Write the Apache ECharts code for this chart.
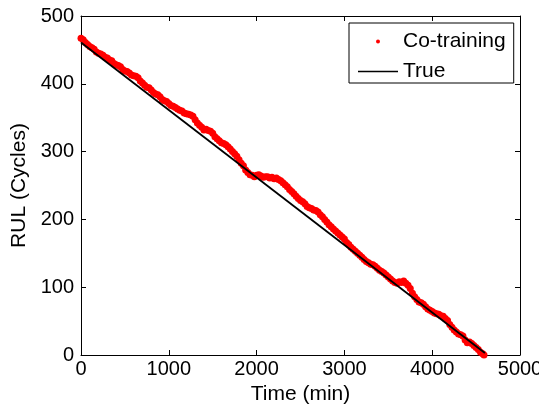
<!DOCTYPE html>
<html>
<head>
<meta charset="utf-8">
<script src="https://cdn.jsdelivr.net/npm/echarts@6/dist/echarts.min.js"></script>
<style>
html,body{margin:0;padding:0;background:#fff;}
#chart{width:539px;height:405px;}
</style>
</head>
<body>
<div id="chart"></div>
<script>
// Co-training predictions: time (min) and RUL (cycles)
const coTime = [0,25,50,75,100,125,150,175,200,225,250,275,300,325,350,375,400,425,450,475,500,525,550,575,600,625,650,675,700,725,750,775,800,825,850,875,900,925,950,975,1000,1025,1050,1075,1100,1125,1150,1175,1200,1225,1250,1275,1300,1325,1350,1375,1400,1425,1450,1475,1500,1525,1550,1575,1600,1625,1650,1675,1700,1725,1750,1775,1800,1825,1850,1875,1900,1925,1950,1975,2000,2025,2050,2075,2100,2125,2150,2175,2200,2225,2250,2275,2300,2325,2350,2375,2400,2425,2450,2475,2500,2525,2550,2575,2600,2625,2650,2675,2700,2725,2750,2775,2800,2825,2850,2875,2900,2925,2950,2975,3000,3025,3050,3075,3100,3125,3150,3175,3200,3225,3250,3275,3300,3325,3350,3375,3400,3425,3450,3475,3500,3525,3550,3575,3600,3625,3650,3675,3700,3725,3750,3775,3800,3825,3850,3875,3900,3925,3950,3975,4000,4025,4050,4075,4100,4125,4150,4175,4200,4225,4250,4275,4300,4325,4350,4375,4400,4425,4450,4475,4500,4525,4550,4575,4590];
const coRUL = [467,465,461,458,455,453,451,447,445,444,442,439,438,435,434,430,428,427,425,421,419,418,416,413,412,411,409,404,401,398,395,394,391,387,385,384,381,377,375,374,371,368,367,365,363,361,360,357,356,355,354,352,347,342,339,336,332,333,331,330,327,322,319,316,313,312,310,307,304,300,297,293,288,283,279,273,269,266,265,263,265,266,264,262,263,263,261,262,260,261,259,257,254,251,248,244,241,238,234,231,228,226,223,219,217,216,214,213,211,207,204,200,196,192,189,186,183,180,177,174,171,166,163,159,156,153,150,147,144,141,138,136,134,133,131,128,125,123,121,118,115,112,109,107,106,108,107,109,106,103,98,91,86,82,78,77,75,71,68,66,64,62,61,60,58,57,54,51,45,41,37,34,31,30,28,22,18,19,17,14,11,8,4,2,0];
// True RUL line
const trueTime = [0, 4600];
const trueRUL = [461, 3];
// Axis ticks
const xTicks = [0, 1000, 2000, 3000, 4000, 5000];
const yTicks = [0, 100, 200, 300, 400, 500];

const FONT = 'Liberation Sans, Arial, sans-serif';
const chart = echarts.init(document.getElementById('chart'), null, {renderer: 'canvas'});
const baseAxis = {
  axisLine: {show: true, onZero: false, lineStyle: {color: '#000', width: 1}},
  axisTick: {show: true, inside: true, length: 5, lineStyle: {color: '#000', width: 1}},
  splitLine: {show: false}
};
const plain = v => String(v);
chart.setOption({
  animation: false,
  backgroundColor: '#fff',
  grid: {left: 81, right: 19, top: 16, bottom: 50, containLabel: false, outerBoundsMode: 'none'},
  xAxis: [
    Object.assign({}, baseAxis, {
      type: 'value', min: xTicks[0], max: xTicks[xTicks.length - 1], interval: 1000,
      position: 'bottom',
      name: 'Time (min)', nameLocation: 'middle', nameGap: 20,
      nameTextStyle: {color: '#000', fontFamily: FONT, fontSize: 21},
      axisLabel: {color: '#000', fontFamily: FONT, fontSize: 20, margin: 4, formatter: plain}
    }),
    Object.assign({}, baseAxis, {
      type: 'value', min: xTicks[0], max: xTicks[xTicks.length - 1], interval: 1000,
      position: 'top', axisLabel: {show: false}
    })
  ],
  yAxis: [
    Object.assign({}, baseAxis, {
      type: 'value', min: yTicks[0], max: yTicks[yTicks.length - 1], interval: 100,
      position: 'left',
      name: 'RUL (Cycles)', nameLocation: 'middle', nameGap: 43, nameRotate: 90,
      nameTextStyle: {color: '#000', fontFamily: FONT, fontSize: 21},
      axisLabel: {color: '#000', fontFamily: FONT, fontSize: 20, margin: 7, formatter: plain}
    }),
    Object.assign({}, baseAxis, {
      type: 'value', min: yTicks[0], max: yTicks[yTicks.length - 1], interval: 100,
      position: 'right', axisLabel: {show: false}
    })
  ],
  legend: {
    orient: 'vertical',
    left: 349, top: 23,
    padding: [8, 8, 1, 9],
    itemWidth: 40, itemHeight: 4, itemGap: 9,
    borderColor: '#000', borderWidth: 1, backgroundColor: '#fff',
    textStyle: {color: '#000', fontFamily: FONT, fontSize: 21, lineHeight: 21},
    data: [
      {name: 'Co-training', icon: 'circle'},
      {name: 'True', icon: 'path://M0,0L40,0L40,1.6L0,1.6Z'}
    ]
  },
  series: [
    {
      name: 'Co-training', type: 'scatter',
      symbol: 'circle', symbolSize: 7,
      itemStyle: {color: '#ff0000', opacity: 1},
      data: coTime.map((t, i) => [t, coRUL[i]]),
      z: 2
    },
    {
      name: 'True', type: 'line',
      showSymbol: false, symbol: 'none',
      lineStyle: {color: '#000', width: 1.8},
      itemStyle: {color: '#000'},
      data: trueTime.map((t, i) => [t, trueRUL[i]]),
      z: 3
    }
  ]
});
</script>
</body>
</html>
